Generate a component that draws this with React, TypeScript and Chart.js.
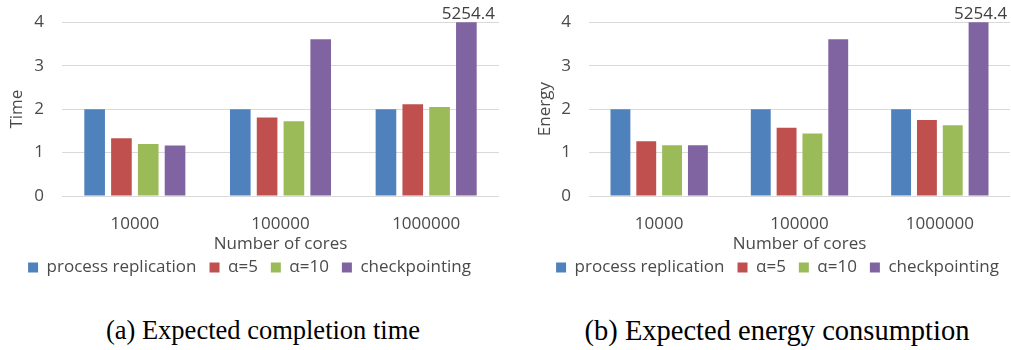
import React, { useEffect, useRef } from 'react';
import { Chart, registerables } from 'chart.js';

Chart.register(...registerables);

const categories = ['10000', '100000', '1000000'];
const seriesNames = ['process replication', 'α=5', 'α=10', 'checkpointing'];
const seriesColors = ['#4F81BD', '#C0504D', '#9BBB59', '#8064A2'];

const timeReplication = [2.0, 2.0, 2.0];
const timeAlpha5 = [1.33, 1.81, 2.11];
const timeAlpha10 = [1.2, 1.72, 2.05];
const timeCheckpointing = [1.16, 3.61, 5254.4];

const energyReplication = [2.0, 2.0, 2.0];
const energyAlpha5 = [1.26, 1.57, 1.75];
const energyAlpha10 = [1.17, 1.44, 1.63];
const energyCheckpointing = [1.17, 3.61, 5254.4];

const yMin = 0;
const yMax = 4;
const yStep = 1;

const xTitle = 'Number of cores';
const captions = ['(a) Expected completion time', '(b) Expected energy consumption'];

const FONT = "'Open Sans', sans-serif";
const TEXT = '#4a4a4a';

const overflowLabels = {
  id: 'overflowLabels',
  afterDatasetsDraw(chart: any) {
    const { ctx, chartArea } = chart;
    const max = chart.scales.y.max;
    chart.data.datasets.forEach((ds: any, di: number) => {
      const meta = chart.getDatasetMeta(di);
      ds.data.forEach((v: number, i: number) => {
        if (v > max) {
          const bar = meta.data[i];
          ctx.save();
          ctx.font = `17px ${FONT}`;
          ctx.fillStyle = '#404040';
          ctx.textAlign = 'center';
          ctx.textBaseline = 'alphabetic';
          ctx.fillText(String(v), bar.x + 2, chartArea.top - 3);
          ctx.restore();
        }
      });
    });
  },
};

const legendShift = {
  id: 'legendShift',
  afterLayout(chart: any, _args: any, opts: any) {
    const lg = chart.legend;
    if (lg && opts && opts.dx) {
      lg.left += opts.dx;
      lg.right += opts.dx;
    }
  },
};

function BarChart(props: {
  series: number[][];
  yTitle: string;
  width: number;
  height: number;
  axisWidth: number;
  titleOffset: number;
  legendDx: number;
}) {
  const ref = useRef<HTMLCanvasElement>(null);
  useEffect(() => {
    if (!ref.current) return;
    const chart = new Chart(ref.current, {
      type: 'bar',
      data: {
        labels: categories,
        datasets: props.series.map((d, i) => ({
          label: seriesNames[i],
          data: d,
          backgroundColor: seriesColors[i],
          borderWidth: 0,
          categoryPercentage: 0.736,
          barPercentage: 0.77,
        })),
      },
      options: {
        responsive: false,
        animation: false,
        layout: { padding: { top: 0, right: 1, bottom: 0, left: 0 } },
        scales: {
          x: {
            grid: { display: false, drawTicks: false },
            border: { display: false },
            ticks: { color: TEXT, font: { family: FONT, size: 17 }, padding: 18 },
            title: {
              display: true,
              text: xTitle,
              color: TEXT,
              font: { family: FONT, size: 17 },
              padding: { top: 0, bottom: -8 },
            },
            afterFit(scale: any) {
              scale.height = 50;
            },
          },
          y: {
            min: yMin,
            max: yMax,
            grid: { color: '#d9d9d9', lineWidth: 1, drawTicks: false },
            border: { display: false },
            ticks: {
              stepSize: yStep,
              color: TEXT,
              font: { family: FONT, size: 17, lineHeight: 0.5 },
              padding: 18,
            },
            title: {
              display: true,
              text: props.yTitle,
              color: TEXT,
              font: { family: FONT, size: 17 },
              padding: { top: props.titleOffset, bottom: 0 },
            },
            afterFit(scale: any) {
              scale.width = props.axisWidth;
            },
          },
        },
        plugins: {
          legend: {
            position: 'bottom',
            labels: {
              boxWidth: 10,
              boxHeight: 10,
              padding: 13,
              color: TEXT,
              font: { family: FONT, size: 17 },
            },
          },
          tooltip: { enabled: false },
          legendShift: { dx: props.legendDx },
        } as any,
      },
      plugins: [overflowLabels, legendShift],
    });
    return () => chart.destroy();
  }, []);
  return <canvas ref={ref} width={props.width} height={props.height} style={{ width: props.width, height: props.height, display: 'block' }} />;
}

export default function App() {
  return (
    <div style={{ position: 'absolute', left: 0, top: 0, width: 1011, height: 350, background: '#fff', overflow: 'hidden' }}>
      <div style={{ position: 'absolute', left: 0, top: 0 }}>
        <BarChart
          series={[timeReplication, timeAlpha5, timeAlpha10, timeCheckpointing]}
          yTitle="Time"
          width={500}
          height={286}
          axisWidth={62}
          titleOffset={7}
          legendDx={0}
        />
      </div>
      <div style={{ position: 'absolute', left: 505, top: 0 }}>
        <BarChart
          series={[energyReplication, energyAlpha5, energyAlpha10, energyCheckpointing]}
          yTitle="Energy"
          width={506}
          height={286}
          axisWidth={84}
          titleOffset={30}
          legendDx={20}
        />
      </div>
      {captions.map((c, i) => (
        <div
          key={i}
          style={{
            position: 'absolute',
            left: i === 0 ? 263 - 250 : 777 - 250,
            width: 500,
            top: 317,
            textAlign: 'center',
            fontFamily: "'Liberation Serif', serif",
            fontSize: i === 0 ? 26.5 : 28.5,
            lineHeight: '27px',
            color: '#000',
            whiteSpace: 'nowrap',
          }}
        >
          {c}
        </div>
      ))}
    </div>
  );
}
